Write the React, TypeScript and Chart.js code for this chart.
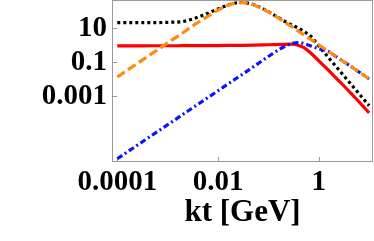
import React, { useEffect, useRef } from "react";
import { Chart, registerables } from "chart.js";

Chart.register(...registerables);

// transverse momentum grid (GeV)
const kt = [0.0001, 0.0002, 0.0005, 0.001, 0.002, 0.003, 0.005, 0.01, 0.02, 0.03, 0.05, 0.1, 0.2, 0.3, 0.4, 0.5, 0.7, 1, 1.5, 2, 3, 5, 7, 10];

// series values
const blackDotted = [21.4, 21.4, 21.5, 22.5, 25, 34, 58, 138, 290, 328, 250, 95, 28, 15, 10, 6.7, 3.3, 0.9, 0.218, 0.079, 0.0192, 0.00321, 0.00099, 0.000284];
const redSolid = [0.93, 0.93, 0.94, 0.94, 0.95, 0.95, 0.96, 0.97, 0.99, 1.0, 1.02, 1.08, 1.15, 1.16, 0.98, 0.75, 0.34, 0.123, 0.038, 0.0162, 0.0048, 0.00098, 0.00034, 0.000107];
const orangeDashed = [0.0138, 0.055, 0.345, 1.38, 5.45, 12.9, 33, 118, 282, 321, 241, 91, 25.7, 11.7, 6.6, 4.25, 2.18, 1.07, 0.476, 0.268, 0.119, 0.0429, 0.0219, 0.0107];
const blueDashDot = [2.14e-7, 8.6e-7, 5.35e-6, 2.14e-5, 8.6e-5, 1.93e-4, 5.35e-4, 2.14e-3, 8.6e-3, 0.019, 0.054, 0.22, 0.8, 1.3, 1.45, 1.3, 0.92, 0.62, 0.46, 0.268, 0.119, 0.0429, 0.0219, 0.0107];

// ticks
const xTickValues = [0.0001, 0.01, 1];
const xTickLabels = ["0.0001", "0.01", "1"];
const yTickValues = [10, 0.1, 0.001];
const yTickLabels = ["10", "0.1", "0.001"];
const xTitle = "kt [GeV]";

// axis ranges
const X_MIN = 8.22e-5;
const X_MAX = 11.4;
const Y_MIN = 1.58e-7;
const Y_MAX = 403;

const FRAME = "#9a9a9a";
const SERIF = "'Liberation Serif', 'Times New Roman', serif";

const framePlugin = {
  id: "frameTicks",
  beforeDatasetsDraw(chart: any) {
    const { ctx, chartArea } = chart;
    const { left, right, top, bottom } = chartArea;
    ctx.save();
    ctx.strokeStyle = FRAME;
    ctx.lineWidth = 1;
    ctx.strokeRect(Math.round(left) - 0.5, Math.round(top) - 0.5, Math.round(right - left) + 1, Math.round(bottom - top) + 1);
    const xs = chart.scales.x;
    const ys = chart.scales.y;
    ctx.beginPath();
    xTickValues.forEach((v) => {
      const px = Math.round(xs.getPixelForValue(v)) + 0.5;
      ctx.moveTo(px, bottom);
      ctx.lineTo(px, bottom - 4);
    });
    yTickValues.forEach((v) => {
      const py = Math.round(ys.getPixelForValue(v)) + 0.5;
      ctx.moveTo(left, py);
      ctx.lineTo(left + 4, py);
    });
    ctx.stroke();
    ctx.restore();
  },
};

function mk(values: number[]) {
  return kt.map((x, i) => ({ x, y: values[i] }));
}

export default function App() {
  const ref = useRef<HTMLCanvasElement | null>(null);
  useEffect(() => {
    if (!ref.current) return;
    const tickFont = { family: SERIF, size: 29, weight: "bold" as const };
    const chart = new Chart(ref.current, {
      type: "line",
      data: {
        datasets: [
          {
            label: "orange",
            data: mk(orangeDashed),
            borderColor: "#ff8a0f",
            borderWidth: 3.2,
            borderDash: [9, 4],
            pointRadius: 0,
            cubicInterpolationMode: "monotone",
            order: 0,
          },
          {
            label: "blue",
            data: mk(blueDashDot),
            borderColor: "#0a14ff",
            borderWidth: 3.2,
            borderDash: [6, 3, 2, 3],
            pointRadius: 0,
            cubicInterpolationMode: "monotone",
            order: 1,
          },
          {
            label: "red",
            data: mk(redSolid),
            borderColor: "#ff0000",
            borderWidth: 3.2,
            pointRadius: 0,
            cubicInterpolationMode: "monotone",
            order: 2,
          },
          {
            label: "black",
            data: mk(blackDotted),
            borderColor: "#000000",
            borderWidth: 3.2,
            borderDash: [3, 3],
            pointRadius: 0,
            cubicInterpolationMode: "monotone",
            order: 3,
          },
        ],
      },
      options: {
        animation: false,
        responsive: false,
        maintainAspectRatio: false,
        layout: { padding: { left: 0, right: 2, top: 1, bottom: 0 } },
        plugins: { legend: { display: false }, tooltip: { enabled: false } },
        scales: {
          x: {
            type: "logarithmic",
            min: X_MIN,
            max: X_MAX,
            grid: { display: false, drawTicks: false },
            border: { display: false },
            afterBuildTicks: (s: any) => {
              s.ticks = xTickValues.map((v) => ({ value: v }));
            },
            afterFit: (s: any) => {
              s.height = 80;
              s.paddingLeft = 0;
              s.paddingRight = 0;
            },
            ticks: {
              color: "#000",
              font: tickFont,
              padding: 4,
              maxRotation: 0,
              autoSkip: false,
              callback: (v: any) => {
                const i = xTickValues.findIndex((t) => Math.abs(Math.log10(t) - Math.log10(Number(v))) < 1e-6);
                return i >= 0 ? xTickLabels[i] : "";
              },
            },
            title: {
              display: true,
              text: xTitle,
              color: "#000",
              font: { family: SERIF, size: 31, weight: "bold" },
              padding: { top: 0, bottom: 9 },
            },
          },
          y: {
            type: "logarithmic",
            min: Y_MIN,
            max: Y_MAX,
            grid: { display: false, drawTicks: false },
            border: { display: false },
            afterBuildTicks: (s: any) => {
              s.ticks = yTickValues.map((v) => ({ value: v }));
            },
            afterFit: (s: any) => {
              s.width = 113;
              s.paddingTop = 0;
              s.paddingBottom = 0;
            },
            ticks: {
              color: "#000",
              font: tickFont,
              padding: 6,
              autoSkip: false,
              callback: (v: any) => {
                const i = yTickValues.findIndex((t) => Math.abs(Math.log10(t) - Math.log10(Number(v))) < 1e-6);
                return i >= 0 ? yTickLabels[i] : "";
              },
            },
          },
        },
      },
      plugins: [framePlugin],
    });
    return () => chart.destroy();
  }, []);
  return (
    <div style={{ position: "absolute", left: 0, top: 0, width: 374, height: 241, background: "#fff" }}>
      <canvas ref={ref} width={374} height={241} style={{ width: 374, height: 241, display: "block" }} />
    </div>
  );
}
